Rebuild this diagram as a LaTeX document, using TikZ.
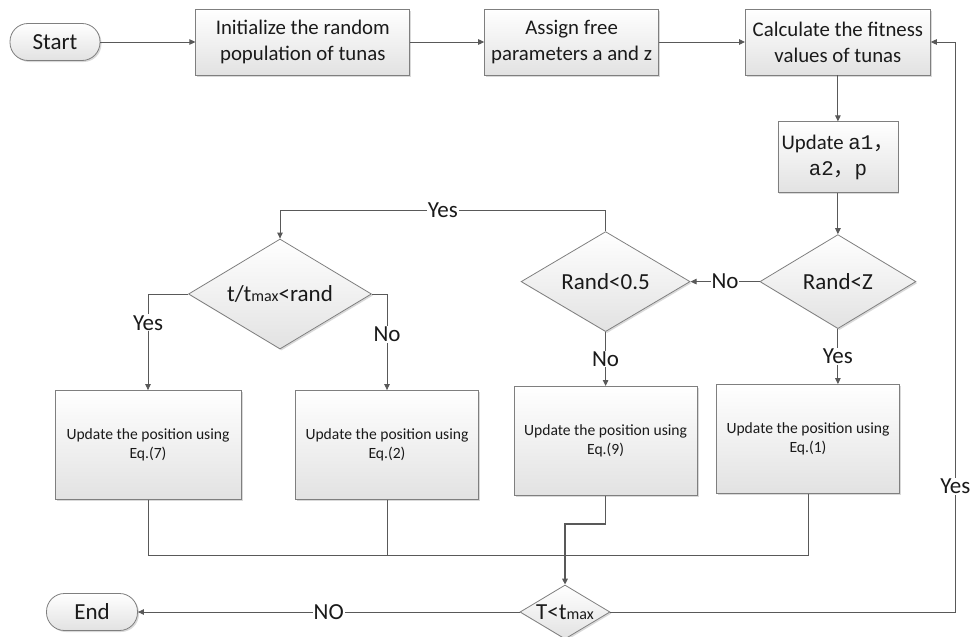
\documentclass[tikz,border=0pt]{standalone}
\usepackage{fontspec}
\setmainfont{Carlito}
\newfontfamily\cjk{Noto Sans CJK SC}
\newfontfamily\simmono{Liberation Mono}
\usetikzlibrary{positioning,arrows.meta,shapes.geometric,shadows}
\definecolor{edge}{HTML}{7F7F7F}
\definecolor{wire}{HTML}{595959}
\definecolor{shade}{HTML}{E2E2E2}
\definecolor{ink}{HTML}{1A1A1A}
\newcommand{\boxfont}{\fontsize{20.8pt}{26pt}\selectfont}
\newcommand{\lblfont}{\fontsize{23pt}{27pt}\selectfont}
\newcommand{\eqfont}{\fontsize{15.6pt}{19.5pt}\selectfont}
\newcommand{\tmx}{t{\fontsize{16pt}{16pt}\selectfont max}}

\begin{document}
\begin{tikzpicture}[x=1pt,y=-1pt,
  base/.style={draw=edge,line width=0.8pt,top color=white,bottom color=shade,text=ink,
    drop shadow={shadow xshift=1.5pt,shadow yshift=-1.5pt,fill=black,opacity=0.15}},
  term/.style={base,rounded corners=18pt,minimum width=90pt,minimum height=37pt,font=\lblfont,inner sep=0pt},
  box/.style={base,minimum height=66pt,align=center,font=\boxfont,inner sep=2pt},
  sbox/.style={base,minimum width=183pt,minimum height=109pt,align=center,font=\eqfont},
  dec/.style={base,diamond,aspect=1.7,inner sep=0pt,font=\lblfont},
  arr/.style={draw=wire,line width=0.9pt,-{Triangle[length=6pt,width=5.5pt]}},
  ln/.style={draw=wire,line width=0.9pt},
  lbl/.style={fill=white,inner sep=1pt,font=\lblfont,text=ink}]
  \useasboundingbox (0,0) rectangle (970,637);
  \node[term] (start) at (55,42) {Start};
  \node[box,right=95pt of start,minimum width=214pt] (init) {Initialize the random\\population of tunas};
  \node[box,right=74pt of init,minimum width=174pt] (assign) {Assign free\\parameters a and z};
  \node[box,right=86pt of assign,minimum width=185pt] (calc) {Calculate the fitness\\values of tunas};
  \node[box,below=46pt of calc,minimum width=120pt,minimum height=71pt] (upd) {Update {\simmono a1}{\cjk ，}\\{\simmono a2}{\cjk ，}{\simmono p}};
  \node[dec,below=41pt of upd,minimum width=156pt,minimum height=94pt] (rz) {Rand<Z};
  \node[dec,left=69pt of rz,minimum width=169pt,minimum height=100pt] (rh) {Rand<0.5};
  \node[dec,minimum width=183pt,minimum height=110pt] (tt) at (280,294) {t/\tmx<rand};
  \node[sbox,minimum width=186pt] (e7) at (148,445) {Update the position using\\Eq.(7)};
  \node[sbox] (e2) at (387,445) {Update the position using\\Eq.(2)};
  \node[sbox,below=54pt of rh] (e9) {Update the position using\\Eq.(9)};
  \node[sbox] (e1) at (808,439) {Update the position using\\Eq.(1)};
  \node[dec,minimum width=90pt,minimum height=54pt] (tm) at (565,612) {T<\tmx};
  \node[term,minimum width=91pt] (end) at (92,612) {End};
  \draw[arr] (start) -- (init);
  \draw[arr] (init) -- (assign);
  \draw[arr] (assign) -- (calc);
  \draw[arr] (calc) -- (upd);
  \draw[arr] (upd) -- (rz);
  \draw[arr] (rz) -- node[lbl]{No} (rh);
  \draw[arr] (rz.south) -- node[lbl]{Yes} (rz.south |- e1.north);
  \draw[arr] (rh) -- node[lbl]{No} (e9);
  \draw[arr] (rh.north) -- ++(0,-21) -| node[lbl,pos=0.25]{Yes} (tt.north);
  \draw[arr] (tt.west) -| node[lbl,pos=0.65]{Yes} (e7.north);
  \draw[arr] (tt.east) -| node[lbl,pos=0.71]{No} (e2.north);
  % merge to the loop test
  \draw[ln] (e7.south) -- ++(0,56) -| (e1.south);
  \draw[ln] (e2.south) -- ++(0,56);
  \draw[arr,line width=1.4pt] (e9.south) -- ++(0,28) -| (tm.north);
  \draw[arr] (tm.west) -- node[lbl]{NO} (end.east);
  \draw[arr] (tm.east) -- ++(345,0) |- node[lbl,pos=0.11]{Yes} (calc.east);
\end{tikzpicture}
\end{document}
